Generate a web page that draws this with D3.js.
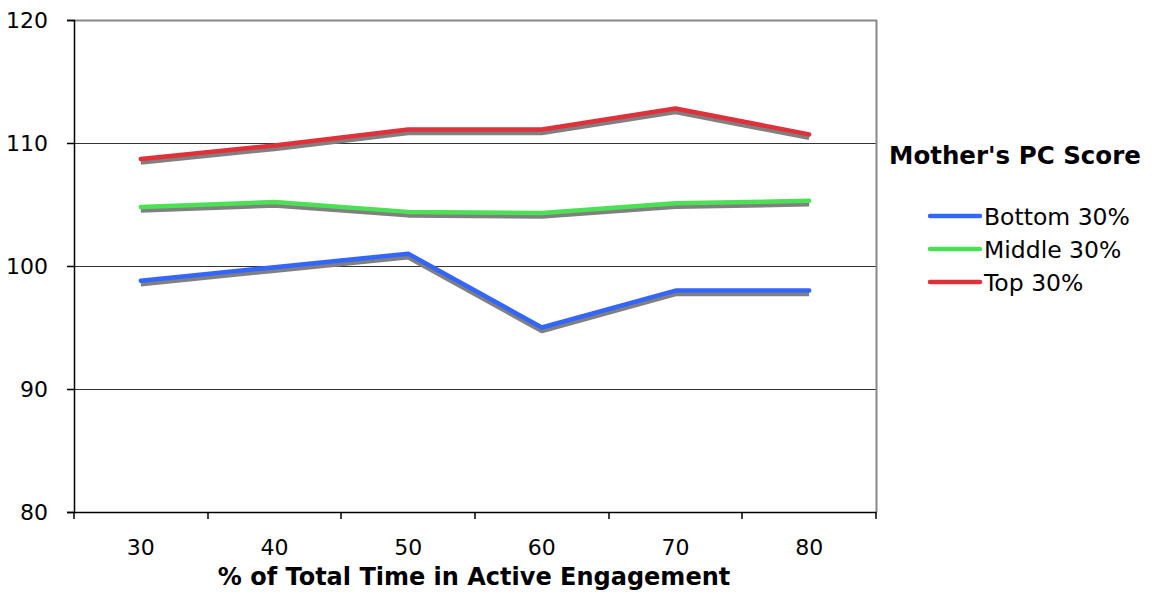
<!DOCTYPE html>
<html>
<head>
<meta charset="utf-8">
<script src="https://cdn.jsdelivr.net/npm/d3@7"></script>
<style>
  html, body { margin: 0; padding: 0; background: #fff; }
  svg { display: block; font-family: "DejaVu Sans", Verdana, sans-serif; }
</style>
</head>
<body>
<svg id="chart" width="1152" height="593"></svg>
<script>
// Engagement share (%) on the x axis
const categories = ["30", "40", "50", "60", "70", "80"];
// Mean score by mother's PC score group
const bottom30 = [98.8, 99.9, 101.0, 95.0, 98.0, 98.0];
const middle30 = [104.8, 105.2, 104.4, 104.3, 105.1, 105.3];
const top30    = [108.7, 109.8, 111.1, 111.1, 112.8, 110.7];
const seriesNames = ["Bottom 30%", "Middle 30%", "Top 30%"];
const seriesColors = ["#3366ff", "#4ce055", "#e0303a"];
const yTicks = [80, 90, 100, 110, 120];

const series = [bottom30, middle30, top30].map((values, i) => ({
  name: seriesNames[i], color: seriesColors[i], values
}));

const svg = d3.select("#chart");
const plotLeft = 74, plotRight = 876, plotTop = 20, plotBottom = 512;

const x = d3.scaleBand().domain(categories).range([plotLeft, plotRight]);
const y = d3.scaleLinear().domain([80, 120]).range([plotBottom, plotTop]);

// Horizontal gridlines
svg.append("g")
  .selectAll("line")
  .data(yTicks.filter(t => t > 80 && t < 120))
  .join("line")
  .attr("x1", plotLeft).attr("x2", plotRight)
  .attr("y1", d => Math.round(y(d)) + 0.5).attr("y2", d => Math.round(y(d)) + 0.5)
  .attr("stroke", "#333").attr("stroke-width", 1);

// Plot frame: top and right edges in gray
svg.append("line").attr("x1", plotLeft).attr("x2", plotRight + 1)
  .attr("y1", plotTop + 0.5).attr("y2", plotTop + 0.5)
  .attr("stroke", "#888").attr("stroke-width", 2);
svg.append("line").attr("x1", plotRight + 0.5).attr("x2", plotRight + 0.5)
  .attr("y1", plotTop).attr("y2", plotBottom)
  .attr("stroke", "#888").attr("stroke-width", 2);

// Y axis
const yAxis = svg.append("g")
  .attr("transform", `translate(${plotLeft},0)`)
  .call(d3.axisLeft(y).tickValues(yTicks).tickSize(7).tickPadding(19));
yAxis.select(".domain").attr("stroke", "#000").attr("stroke-width", 1.5);
yAxis.selectAll(".tick line").attr("stroke", "#000").attr("stroke-width", 1.5);
yAxis.selectAll(".tick text")
  .attr("font-size", 22).attr("fill", "#000")
  .attr("font-family", "'DejaVu Sans', Verdana, sans-serif");

// X axis: ticks sit on category boundaries
const xAxis = svg.append("g")
  .attr("transform", `translate(0,${plotBottom})`)
  .call(d3.axisBottom(x).tickSize(0).tickPadding(27));
xAxis.select(".domain").attr("stroke", "#000").attr("stroke-width", 1.5);
xAxis.selectAll(".tick text")
  .attr("font-size", 22).attr("fill", "#000")
  .attr("font-family", "'DejaVu Sans', Verdana, sans-serif");
const bounds = categories.map(c => x(c)).concat([x.range()[1]]);
xAxis.append("g").selectAll("line")
  .data(bounds)
  .join("line")
  .attr("x1", d => Math.round(d)).attr("x2", d => Math.round(d))
  .attr("y1", 0).attr("y2", 7)
  .attr("stroke", "#000").attr("stroke-width", 1.5);

// X axis title
svg.append("text")
  .attr("x", 474).attr("y", 585)
  .attr("text-anchor", "middle")
  .attr("font-size", 24).attr("font-weight", "bold")
  .text("% of Total Time in Active Engagement");

// Lines with a gray drop shadow beneath each
const line = d3.line()
  .x((d, i) => x(categories[i]) + x.bandwidth() / 2)
  .y(d => y(d));

const shadows = svg.append("g").attr("transform", "translate(0,3.5)");
shadows.selectAll("path")
  .data(series)
  .join("path")
  .attr("d", d => line(d.values))
  .attr("fill", "none").attr("stroke", "#808080")
  .attr("stroke-width", 4.5).attr("stroke-linejoin", "round");

svg.append("g").selectAll("path")
  .data(series)
  .join("path")
  .attr("d", d => line(d.values))
  .attr("fill", "none").attr("stroke", d => d.color)
  .attr("stroke-width", 4.5).attr("stroke-linejoin", "round")
  .attr("stroke-linecap", "round");

// Legend
const legend = svg.append("g");
legend.append("text")
  .attr("x", 889).attr("y", 164)
  .attr("font-size", 24.5).attr("font-weight", "bold")
  .text("Mother's PC Score");

const items = legend.selectAll("g.item")
  .data(series)
  .join("g").attr("class", "item")
  .attr("transform", (d, i) => `translate(0,${216 + i * 33})`);
items.append("line")
  .attr("x1", 930).attr("x2", 980).attr("y1", 0).attr("y2", 0)
  .attr("stroke", d => d.color).attr("stroke-width", 4.5)
  .attr("stroke-linecap", "round");
items.append("text")
  .attr("x", 984).attr("y", 9)
  .attr("font-size", 23.5)
  .text(d => d.name);
</script>
</body>
</html>
